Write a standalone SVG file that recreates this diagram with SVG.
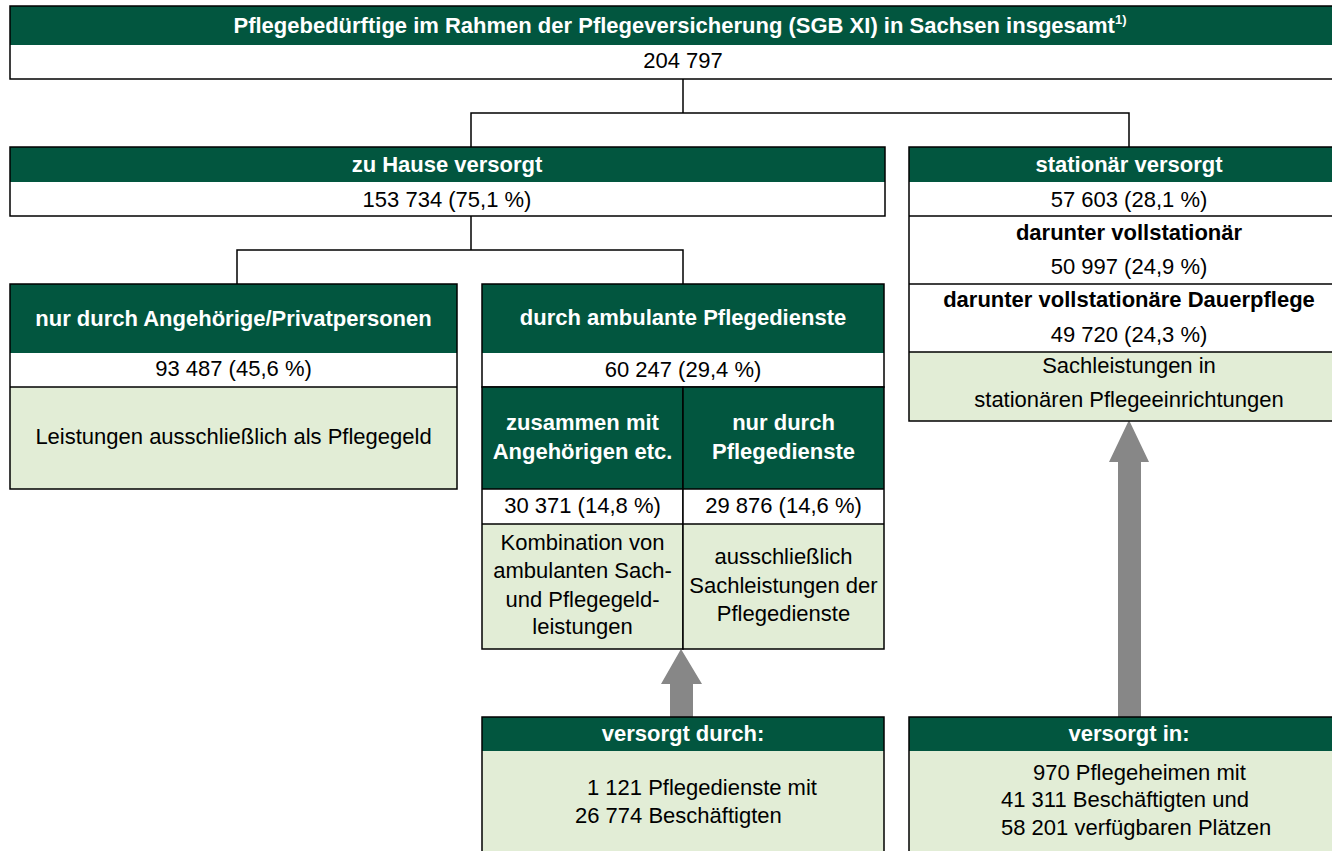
<svg xmlns="http://www.w3.org/2000/svg" width="1332" height="851" viewBox="0 0 1332 851">
<style>
.hd{fill:#02563F}
.wt{fill:#FFFFFF}
.lg{fill:#E2EDD6}
.bx{fill:none;stroke:#000;stroke-width:1.5}
.ln{stroke:#000;stroke-width:1.5;fill:none}
.th{font-family:"Liberation Sans",Arial,sans-serif;font-weight:bold;font-size:22px;fill:#FFFFFF;text-anchor:middle}
.tb{font-family:"Liberation Sans",Arial,sans-serif;font-weight:bold;font-size:22px;fill:#000;text-anchor:middle}
.t{font-family:"Liberation Sans",Arial,sans-serif;font-size:22px;fill:#000;text-anchor:middle}
.tl{font-family:"Liberation Sans",Arial,sans-serif;font-size:22px;fill:#000}
.ar{fill:#878787}
</style>
<rect width="1332" height="851" fill="#FFFFFF"/>
<g id="connectors">
<polyline class="ln" points="683,79 683,113"/>
<polyline class="ln" points="471,147 471,113 1129,113 1129,147"/>
<polyline class="ln" points="471,216 471,250"/>
<polyline class="ln" points="237,284 237,250 683,250 683,284"/>
<polygon class="ar" points="681,649 702,684 693,684 693,717 670,717 670,684 661,684"/>
<polygon class="ar" points="1129,420 1149,462 1141,462 1141,717 1118,717 1118,462 1109,462"/>
</g>
<g id="node-total">
<rect class="hd" x="10" y="6" width="1346" height="39"/>
<rect class="wt" x="10" y="45" width="1346" height="34"/>
<rect class="bx" x="10" y="6" width="1346" height="73"/>
<text class="th" x="680" y="33">Pflegebedürftige im Rahmen der Pflegeversicherung (SGB XI) in Sachsen insgesamt<tspan dy="-9" style="font-size:13px">1)</tspan></text>
<text class="t" x="683" y="68">204 797</text>
</g>
<g id="node-zuhause">
<rect class="hd" x="10" y="147" width="875" height="35"/>
<rect class="wt" x="10" y="182" width="875" height="34"/>
<rect class="bx" x="10" y="147" width="875" height="69"/>
<text class="th" x="447" y="172">zu Hause versorgt</text>
<text class="t" x="447" y="207">153 734 (75,1 %)</text>
</g>
<g id="node-stationaer">
<rect class="hd" x="909" y="147" width="440" height="35"/>
<rect class="wt" x="909" y="182" width="440" height="170"/>
<rect class="lg" x="909" y="352" width="440" height="69"/>
<rect class="bx" x="909" y="147" width="440" height="274"/>
<line class="ln" x1="909" y1="216" x2="1349" y2="216"/>
<line class="ln" x1="909" y1="284" x2="1349" y2="284"/>
<line class="ln" x1="909" y1="352" x2="1349" y2="352"/>
<text class="th" x="1129" y="172">stationär versorgt</text>
<text class="t" x="1129" y="207">57 603 (28,1 %)</text>
<text class="tb" x="1129" y="240">darunter vollstationär</text>
<text class="t" x="1129" y="274">50 997 (24,9 %)</text>
<text class="tb" x="1129" y="307">darunter vollstationäre Dauerpflege</text>
<text class="t" x="1129" y="342">49 720 (24,3 %)</text>
<text class="t" x="1129" y="373">Sachleistungen in</text>
<text class="t" x="1129" y="407">stationären Pflegeeinrichtungen</text>
</g>
<g id="node-angehoerige">
<rect class="hd" x="10" y="284" width="447" height="69"/>
<rect class="wt" x="10" y="353" width="447" height="34"/>
<rect class="lg" x="10" y="387" width="447" height="102"/>
<rect class="bx" x="10" y="284" width="447" height="205"/>
<line class="ln" x1="10" y1="387" x2="457" y2="387"/>
<text class="th" x="233.5" y="326">nur durch Angehörige/Privatpersonen</text>
<text class="t" x="233.5" y="376">93 487 (45,6 %)</text>
<text class="t" x="233.5" y="444">Leistungen ausschließlich als Pflegegeld</text>
</g>
<g id="node-ambulant">
<rect class="hd" x="482" y="284" width="402" height="69"/>
<rect class="wt" x="482" y="353" width="402" height="34"/>
<rect class="bx" x="482" y="284" width="402" height="103"/>
<text class="th" x="683" y="325">durch ambulante Pflegedienste</text>
<text class="t" x="683" y="377">60 247 (29,4 %)</text>
</g>
<g id="node-zusammen">
<rect class="hd" x="482" y="387" width="201" height="102"/>
<rect class="wt" x="482" y="489" width="201" height="35"/>
<rect class="lg" x="482" y="524" width="201" height="125"/>
<rect class="bx" x="482" y="387" width="201" height="262"/>
<line class="ln" x1="482" y1="489" x2="683" y2="489"/>
<line class="ln" x1="482" y1="524" x2="683" y2="524"/>
<text class="th" x="582.5" y="430">zusammen mit</text>
<text class="th" x="582.5" y="459">Angehörigen etc.</text>
<text class="t" x="582.5" y="513">30 371 (14,8 %)</text>
<text class="t" x="582.5" y="550">Kombination von</text>
<text class="t" x="582.5" y="578">ambulanten Sach-</text>
<text class="t" x="582.5" y="607">und Pflegegeld-</text>
<text class="t" x="582.5" y="634">leistungen</text>
</g>
<g id="node-nurpflege">
<rect class="hd" x="683" y="387" width="201" height="102"/>
<rect class="wt" x="683" y="489" width="201" height="35"/>
<rect class="lg" x="683" y="524" width="201" height="125"/>
<rect class="bx" x="683" y="387" width="201" height="262"/>
<line class="ln" x1="683" y1="489" x2="884" y2="489"/>
<line class="ln" x1="683" y1="524" x2="884" y2="524"/>
<text class="th" x="783.5" y="430">nur durch</text>
<text class="th" x="783.5" y="459">Pflegedienste</text>
<text class="t" x="783.5" y="513">29 876 (14,6 %)</text>
<text class="t" x="783.5" y="564">ausschließlich</text>
<text class="t" x="783.5" y="593">Sachleistungen der</text>
<text class="t" x="783.5" y="621">Pflegedienste</text>
</g>
<g id="node-versorgtdurch">
<rect class="hd" x="482" y="717" width="402" height="34"/>
<rect class="lg" x="482" y="751" width="402" height="110"/>
<rect class="bx" x="482" y="717" width="402" height="144"/>
<text class="th" x="683" y="741">versorgt durch:</text>
<text class="tl" x="587" y="795">1 121 Pflegedienste mit</text>
<text class="tl" x="575" y="823">26 774 Beschäftigten</text>
</g>
<g id="node-versorgtin">
<rect class="hd" x="909" y="717" width="440" height="34"/>
<rect class="lg" x="909" y="751" width="440" height="110"/>
<rect class="bx" x="909" y="717" width="440" height="144"/>
<text class="th" x="1129" y="741">versorgt in:</text>
<text class="tl" x="1033" y="780">970 Pflegeheimen mit</text>
<text class="tl" x="1001" y="807">41 311 Beschäftigten und</text>
<text class="tl" x="1001" y="835">58 201 verfügbaren Plätzen</text>
</g>
</svg>
